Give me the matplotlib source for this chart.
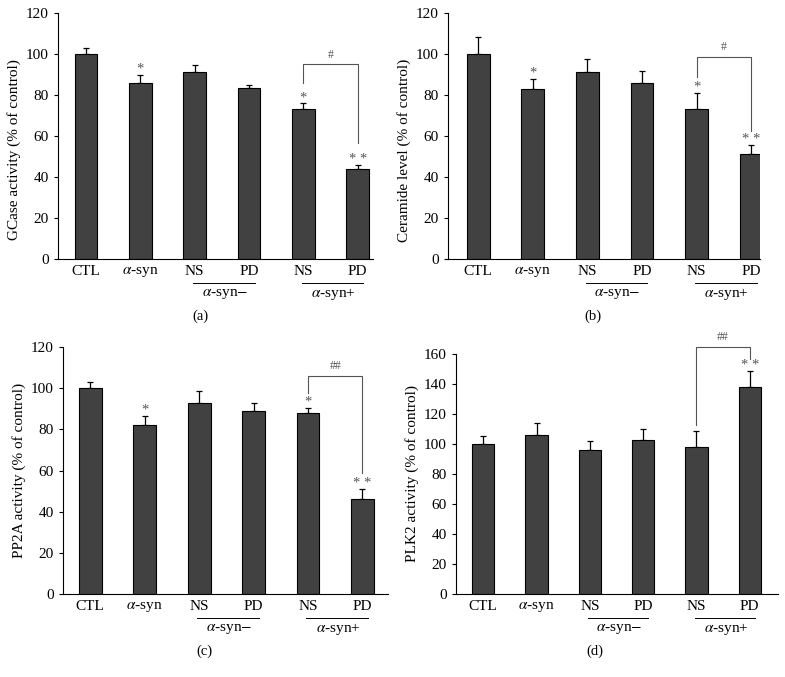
import matplotlib
matplotlib.use("Agg")
import matplotlib.pyplot as plt
from matplotlib.transforms import blended_transform_factory

plt.rcParams['font.family'] = ['Liberation Serif', 'DejaVu Serif']
plt.rcParams['mathtext.fontset'] = 'stix'

groups = ['CTL', r'$\alpha$-syn', 'NS', 'PD', 'NS', 'PD']

gcase = [100, 86, 91, 83.5, 73, 44]
gcase_err = [3, 4, 3.5, 1.5, 3, 2]
ceramide = [100, 83, 91, 86, 73, 51]
ceramide_err = [8.5, 5, 6.5, 5.5, 8, 4.5]
pp2a = [100, 82, 93, 89, 88, 46]
pp2a_err = [3, 4.5, 5.5, 4, 2.5, 5]
plk2 = [100, 106, 96, 103, 98, 138]
plk2_err = [5.5, 8, 6, 7, 10.5, 10.5]

gcase_stars = ['', '*', '', '', '*', '* *']
ceramide_stars = ['', '*', '', '', '*', '* *']
pp2a_stars = ['', '*', '', '', '*', '* *']
plk2_stars = ['', '', '', '', '', '* *']

W, H = 785, 677
fig = plt.figure(figsize=(W / 100, H / 100), dpi=100)

# panel: pixel box (left, top, right, bottom), xlim, ylim
panels = [
    dict(box=(58, 13, 373, 259), xlim=(-0.515, 5.28), ylim=120,
         vals=gcase, err=gcase_err, stars=gcase_stars,
         ylabel='GCase activity (% of control)', tag='(a)', ly=0.443,
         bracket=(95, 86, 56.5), sig='#'),
    dict(box=(448, 13, 760, 259), xlim=(-0.55, 5.16), ylim=120,
         vals=ceramide, err=ceramide_err, stars=ceramide_stars,
         ylabel='Ceramide level (% of control)', tag='(b)', ly=0.443,
         bracket=(98.5, 89, 62.5), sig='#'),
    dict(box=(63, 347, 388, 594), xlim=(-0.5, 5.47), ylim=120,
         vals=pp2a, err=pp2a_err, stars=pp2a_stars,
         ylabel='PP2A activity (% of control)', tag='(c)', ly=0.5,
         bracket=(106, 97.5, 59), sig='##'),
    dict(box=(456, 354, 778, 594), xlim=(-0.51, 5.53), ylim=160,
         vals=plk2, err=plk2_err, stars=plk2_stars,
         ylabel='PLK2 activity (% of control)', tag='(d)', ly=0.5,
         bracket=(165, 113, 157), sig='##'),
]

for p in panels:
    l, t, r, b = p['box']
    ax = fig.add_axes([l / W, 1 - b / H, (r - l) / W, (b - t) / H])
    hpx = b - t
    x = list(range(len(groups)))
    ax.bar(x, p['vals'], width=0.42, color='#414141', edgecolor='black',
           linewidth=0.8, zorder=2)
    ax.errorbar(x, p['vals'], yerr=[[0] * len(x), p['err']], fmt='none',
                ecolor='black', elinewidth=0.9, capsize=2, capthick=0.9,
                zorder=1)
    for i, s in enumerate(p['stars']):
        if s:
            ax.text(i, p['vals'][i] + p['err'][i] - p['ylim'] * 0.004, s,
                    ha='center', va='bottom', fontsize=10.5, color='#555555')
    top, yl, yr = p['bracket']
    ax.plot([4, 4, 5, 5], [yl, top, top, yr], color='#555555', lw=0.8,
            clip_on=False)
    ax.text(4.5, top + p['ylim'] * 0.015, p['sig'], ha='center', va='bottom',
            fontsize=8.5, color='#555555', clip_on=False)

    ax.set_xlim(*p['xlim'])
    ax.set_ylim(0, p['ylim'])
    ax.set_yticks(range(0, p['ylim'] + 1, 20))
    ax.set_xticks(x)
    ax.set_xticklabels(groups)
    ax.tick_params(axis='x', length=0, pad=4, labelsize=11)
    ax.tick_params(axis='y', direction='out', length=3, labelsize=11)
    ax.spines['top'].set_visible(False)
    ax.spines['right'].set_visible(False)
    ax.set_ylabel(p['ylabel'], fontsize=11, labelpad=4)
    ax.yaxis.label.set_y(p['ly'])

    tr = blended_transform_factory(ax.transData, ax.transAxes)
    for a, lab in [(2, r'$\alpha$-syn$-$'), (4, r'$\alpha$-syn+')]:
        ax.plot([a - 0.03, a + 1.1], [-24 / hpx] * 2, transform=tr,
                color='black', lw=0.7, clip_on=False)
        ax.text(a + 0.55, -35 / hpx, lab, transform=tr, ha='center',
                va='center', fontsize=11)
    ax.text(2.1, -57 / hpx, p['tag'], transform=tr, ha='center',
            va='center', fontsize=10.5)

fig.savefig('out.png', dpi=100)
